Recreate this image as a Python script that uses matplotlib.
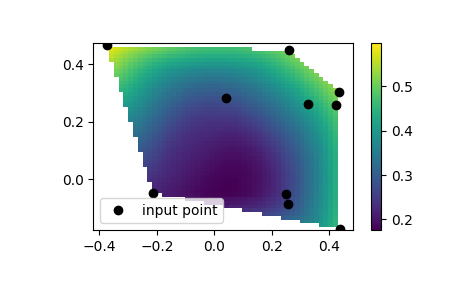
import numpy as np
import matplotlib
matplotlib.use('Agg')
import matplotlib.pyplot as plt
import matplotlib.tri as mtri

# input points
x = np.array([-0.374, 0.260, 0.434, 0.041, 0.327, 0.423, -0.212, 0.248, 0.257, 0.437])
y = np.array([0.466, 0.4495, 0.302, 0.281, 0.260, 0.257, -0.049, -0.052, -0.087, -0.173])
z = np.hypot(x, y)


def global_gradients(tri, f, tol=1e-6, maxiter=400):
    # curvature-minimising gradient estimate (Nielson), as in Clough-Tocher interpolation
    n = len(f)
    nbrs = [set() for _ in range(n)]
    for a, b in tri.edges:
        nbrs[a].add(b)
        nbrs[b].add(a)
    grad = np.zeros((n, 2))
    for _ in range(maxiter):
        err = 0.0
        for i in range(n):
            q0 = q1 = q3 = s0 = s1 = 0.0
            for j in nbrs[i]:
                ex = tri.x[j] - tri.x[i]
                ey = tri.y[j] - tri.y[i]
                L3 = np.hypot(ex, ey) ** 3
                df2 = -ex * grad[j, 0] - ey * grad[j, 1]
                q0 += 4 * ex * ex / L3
                q1 += 4 * ex * ey / L3
                q3 += 4 * ey * ey / L3
                s0 += (6 * (f[i] - f[j]) - 2 * df2) * ex / L3
                s1 += (6 * (f[i] - f[j]) - 2 * df2) * ey / L3
            det = q0 * q3 - q1 * q1
            r0 = (q3 * s0 - q1 * s1) / det
            r1 = (-q1 * s0 + q0 * s1) / det
            change = max(abs(grad[i, 0] + r0), abs(grad[i, 1] + r1))
            grad[i] = [-r0, -r1]
            change /= max(1.0, max(abs(r0), abs(r1)))
            err = max(err, change)
        if err < tol:
            break
    return grad


X = np.linspace(min(x), max(x))
Y = np.linspace(min(y), max(y))
X, Y = np.meshgrid(X, Y)

tri = mtri.Triangulation(x, y)
g = global_gradients(tri, z)
interp = mtri.CubicTriInterpolator(tri, z, kind='user', dz=(g[:, 0], g[:, 1]))
Z = interp(X, Y)

fig = plt.figure(figsize=(4.65, 2.88), dpi=100)
ax = fig.add_axes([93.3 / 465, 58 / 288, 260 / 465, 186.7 / 288])
cax = fig.add_axes([371 / 465, 58 / 288, 10 / 465, 186.7 / 288])

mesh = ax.pcolormesh(X, Y, Z, shading='auto')
ax.plot(x, y, 'ok', label='input point')
ax.legend(loc='lower left', handlelength=1.8)
fig.colorbar(mesh, cax=cax)
ax.set_xlim(-0.421, 0.483)
ax.set_ylim(-0.176, 0.472)
ax.set_xticks([-0.4, -0.2, 0.0, 0.2, 0.4])

fig.savefig('out.png')
